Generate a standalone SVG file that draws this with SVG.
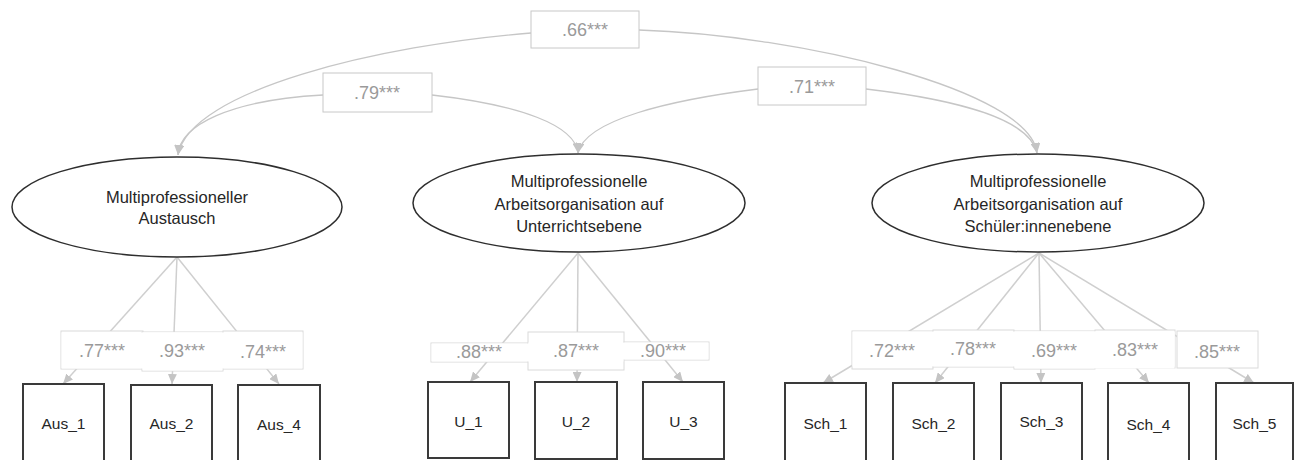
<svg xmlns="http://www.w3.org/2000/svg" width="1298" height="460" viewBox="0 0 1298 460">
  <defs>
    <marker id="arrow" viewBox="0 0 10 9" refX="10" refY="4.5" markerUnits="userSpaceOnUse" markerWidth="10" markerHeight="9" orient="auto">
      <path d="M0,0 L10,4.5 L0,9 z" fill="#c4c4c4"/>
    </marker>
    <style>
      .latent { fill: #ffffff; stroke: #2e2e2e; stroke-width: 1.5; }
      .item { fill: #ffffff; stroke: #3a3a3a; stroke-width: 2; }
      .ntext { font-family: "Liberation Sans", Arial, sans-serif; font-size: 16.5px; fill: #262626; text-anchor: middle; }
      .itext { font-family: "Liberation Sans", Arial, sans-serif; font-size: 15.5px; fill: #262626; text-anchor: middle; }
      .corr { fill: none; stroke: #c6c6c6; stroke-width: 1.3; marker-end: url(#arrow); }
      .load { fill: none; stroke: #cfcfcf; stroke-width: 1.5; marker-end: url(#arrow); }
      .cbox { fill: #ffffff; stroke: #c8c8c8; stroke-width: 1; }
      .lbox { fill: #ffffff; stroke: #dadada; stroke-width: 1; }
      .lfill { fill: #ffffff; stroke: none; }
      .ltext { font-family: "Liberation Sans", Arial, sans-serif; font-size: 18px; fill: #9a9a9a; text-anchor: middle; }
    </style>
  </defs>
  <rect width="1298" height="460" fill="#ffffff"/>

  <!-- connectors: correlations between factors and factor loadings -->
  <g id="connectors">
    <path class="corr" d="M531,33 C380,45 190,90 178,155"/>
    <path class="corr" d="M639,30 C800,35 1030,90 1037,153"/>
    <path class="corr" d="M323,95 C230,100 180,125 178,155"/>
    <path class="corr" d="M432,95 C520,105 575,125 578,153"/>
    <path class="corr" d="M758,89 C670,100 585,120 578,153"/>
    <path class="corr" d="M866,89 C960,100 1030,120 1037,153"/>

    <line class="load" x1="177" y1="257" x2="63" y2="384"/>
    <line class="load" x1="177" y1="257" x2="172" y2="384"/>
    <line class="load" x1="177" y1="257" x2="279" y2="384"/>

    <line class="load" x1="578" y1="253" x2="470" y2="382"/>
    <line class="load" x1="578" y1="253" x2="577" y2="382"/>
    <line class="load" x1="578" y1="253" x2="683" y2="382"/>

    <line class="load" x1="1039" y1="253" x2="823" y2="383"/>
    <line class="load" x1="1039" y1="253" x2="935" y2="383"/>
    <line class="load" x1="1039" y1="253" x2="1041" y2="383"/>
    <line class="load" x1="1039" y1="253" x2="1149" y2="383"/>
    <line class="load" x1="1039" y1="253" x2="1254" y2="383"/>
  </g>

  <!-- coefficient labels -->
  <g id="labels">
    <rect class="cbox" x="531" y="11" width="108" height="37"/>
    <text class="ltext" x="585" y="36">.66***</text>
    <rect class="cbox" x="323" y="73" width="109" height="39"/>
    <text class="ltext" x="377" y="99">.79***</text>
    <rect class="cbox" x="758" y="67" width="108" height="38"/>
    <text class="ltext" x="812" y="93">.71***</text>

    <!-- adjacent label boxes: outlines first, then a shared fill hides the inner edges -->
    <rect class="lbox" x="61" y="331" width="82" height="38"/>
    <rect class="lbox" x="142" y="332" width="81" height="39"/>
    <rect class="lbox" x="223" y="331" width="80" height="38"/>
    <rect class="lfill" x="61.5" y="332.5" width="241" height="36"/>
    <rect class="lfill" x="142.5" y="332.5" width="80" height="38"/>
    <text class="ltext" x="102" y="357">.77***</text>
    <text class="ltext" x="182" y="357">.93***</text>
    <text class="ltext" x="263" y="358">.74***</text>

    <rect class="lbox" x="431" y="343" width="97" height="19"/>
    <rect class="lbox" x="528" y="332" width="96" height="38"/>
    <rect class="lbox" x="624" y="342" width="85" height="18"/>
    <rect class="lfill" x="431.5" y="343.5" width="192" height="18"/>
    <rect class="lfill" x="528.5" y="342.5" width="180" height="17"/>
    <text class="ltext" x="479" y="358">.88***</text>
    <text class="ltext" x="576" y="357">.87***</text>
    <text class="ltext" x="663" y="357">.90***</text>

    <rect class="lbox" x="852" y="331" width="81" height="38"/>
    <rect class="lbox" x="933" y="330" width="81" height="37"/>
    <rect class="lbox" x="1014" y="331" width="81" height="38"/>
    <rect class="lbox" x="1095" y="330" width="80" height="38"/>
    <rect class="lfill" x="852.5" y="331.5" width="322" height="35"/>
    <rect class="lfill" x="1014.5" y="331.5" width="160" height="37"/>
    <rect class="lbox" x="1177" y="331" width="81" height="37"/>
    <text class="ltext" x="892" y="357">.72***</text>
    <text class="ltext" x="973" y="355">.78***</text>
    <text class="ltext" x="1054" y="357">.69***</text>
    <text class="ltext" x="1135" y="356">.83***</text>
    <text class="ltext" x="1217" y="358">.85***</text>
  </g>

  <!-- latent factors -->
  <g id="f-austausch">
    <ellipse class="latent" cx="177" cy="207" rx="165" ry="50"/>
    <text class="ntext" x="177" y="203">Multiprofessioneller</text>
    <text class="ntext" x="177" y="224">Austausch</text>
  </g>
  <g id="f-unterricht">
    <ellipse class="latent" cx="579" cy="203" rx="166" ry="49"/>
    <text class="ntext" x="579" y="187">Multiprofessionelle</text>
    <text class="ntext" x="579" y="210">Arbeitsorganisation auf</text>
    <text class="ntext" x="579" y="232">Unterrichtsebene</text>
  </g>
  <g id="f-schueler">
    <ellipse class="latent" cx="1038" cy="203" rx="166" ry="49"/>
    <text class="ntext" x="1038" y="187">Multiprofessionelle</text>
    <text class="ntext" x="1038" y="210">Arbeitsorganisation auf</text>
    <text class="ntext" x="1038" y="232">Schüler:innenebene</text>
  </g>

  <!-- indicators -->
  <g id="aus1"><rect class="item" x="23" y="384" width="81" height="80"/><text class="itext" x="63.5" y="429">Aus_1</text></g>
  <g id="aus2"><rect class="item" x="131" y="385" width="81" height="80"/><text class="itext" x="171.5" y="429">Aus_2</text></g>
  <g id="aus4"><rect class="item" x="238" y="385" width="82" height="80"/><text class="itext" x="279" y="430">Aus_4</text></g>

  <g id="u1"><rect class="item" x="428" y="382" width="81" height="76"/><text class="itext" x="468.5" y="427">U_1</text></g>
  <g id="u2"><rect class="item" x="535" y="382" width="82" height="77"/><text class="itext" x="576" y="427">U_2</text></g>
  <g id="u3"><rect class="item" x="643" y="382" width="81" height="77"/><text class="itext" x="683.5" y="427">U_3</text></g>

  <g id="sch1"><rect class="item" x="785" y="383" width="81" height="80"/><text class="itext" x="825.5" y="429">Sch_1</text></g>
  <g id="sch2"><rect class="item" x="893" y="383" width="81" height="80"/><text class="itext" x="933.5" y="429">Sch_2</text></g>
  <g id="sch3"><rect class="item" x="1001" y="383" width="81" height="80"/><text class="itext" x="1041.5" y="427">Sch_3</text></g>
  <g id="sch4"><rect class="item" x="1108" y="383" width="81" height="80"/><text class="itext" x="1148.5" y="430">Sch_4</text></g>
  <g id="sch5"><rect class="item" x="1216" y="383" width="77" height="80"/><text class="itext" x="1254.5" y="429">Sch_5</text></g>
</svg>
